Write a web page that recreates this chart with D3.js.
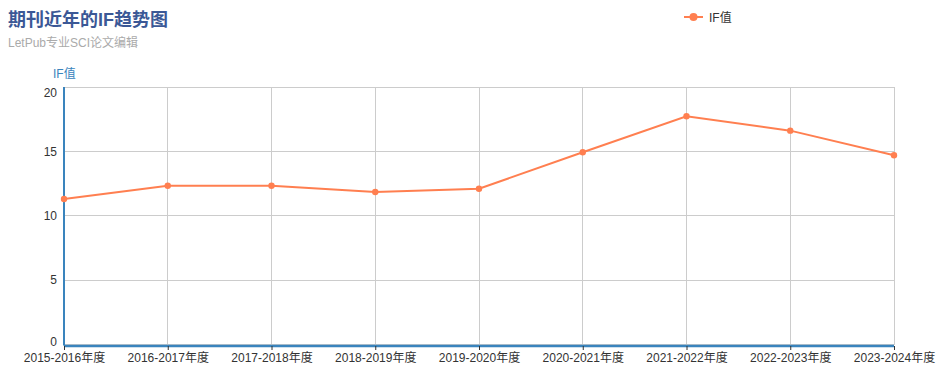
<!DOCTYPE html>
<html><head><meta charset="utf-8">
<script src="https://cdn.jsdelivr.net/npm/d3@7/dist/d3.min.js"></script>
<style>body{margin:0;background:#fff;font-family:"Liberation Sans","Noto Sans CJK SC",sans-serif;}</style>
</head><body><svg id="c" width="942" height="377"></svg>
<script>
const categories = ["2015-2016年度","2016-2017年度","2017-2018年度","2018-2019年度","2019-2020年度","2020-2021年度","2021-2022年度","2022-2023年度","2023-2024年度"];
const ifValues = [11.3, 12.33, 12.33, 11.85, 12.1, 14.93, 17.73, 16.61, 14.7];
const yTicks = [0, 5, 10, 15, 20];
const title = "期刊近年的IF趋势图";
const subtitle = "LetPub专业SCI论文编辑";
const seriesName = "IF值";

const svg = d3.select("#c");
const font = '"Liberation Sans", "Noto Sans CJK SC", sans-serif';
const L = 64, R = 894, T = 87, B = 344.5;
const x = d3.scalePoint().domain(categories).range([L, R]);
const y = d3.scaleLinear().domain([0, 20]).range([B, T]);
const color = "#ff7f50";
const axisColor = "#3a84bd";

// grid
const g = svg.append("g");
g.selectAll(".hg").data(yTicks).join("line")
  .attr("x1", L).attr("x2", R).attr("y1", d => y(d)).attr("y2", d => y(d))
  .attr("stroke", "#ccc").attr("stroke-width", 1).attr("shape-rendering","crispEdges");
g.selectAll(".vg").data(categories).join("line")
  .attr("x1", d => x(d)).attr("x2", d => x(d)).attr("y1", T).attr("y2", B)
  .attr("stroke", "#ccc").attr("stroke-width", 1).attr("shape-rendering","crispEdges");

// y axis
const yAxis = svg.append("g").attr("transform", `translate(${L},0)`)
  .call(d3.axisLeft(y).tickValues(yTicks).tickSize(0).tickPadding(7));
yAxis.select(".domain").attr("stroke", axisColor).attr("stroke-width", 2).attr("d", `M0,${T}V${B+1}`);
yAxis.selectAll("text").attr("fill", "#333").style("font-size", "12px").style("font-family", font)
  .attr("dy", d => d === 20 ? "0.75em" : d === 0 ? "0.05em" : "0.32em");

// x axis
const xAxis = svg.append("g").attr("transform", `translate(0,${B+1.5})`)
  .call(d3.axisBottom(x).tickSize(4).tickPadding(3));
xAxis.select(".domain").attr("stroke", axisColor).attr("stroke-width", 2.5).attr("d", `M${L},0H${R}`);
xAxis.selectAll(".tick line").attr("stroke", "#333");
xAxis.selectAll("text").attr("fill", "#333").style("font-size", "12px").style("font-family", font);

// y axis name
svg.append("text").attr("x", 53).attr("y", 78).text(seriesName)
  .attr("fill", axisColor).style("font-size", "12px").style("font-family", font);

// line
const line = d3.line().x((d, i) => x(categories[i])).y(d => y(d));
svg.append("path").datum(ifValues).attr("d", line)
  .attr("fill", "none").attr("stroke", color).attr("stroke-width", 2);
svg.selectAll(".pt").data(ifValues).join("circle")
  .attr("cx", (d, i) => x(categories[i])).attr("cy", d => y(d)).attr("r", 3.2).attr("fill", color);

// title
svg.append("text").attr("x", 8).attr("y", 26).text(title)
  .attr("fill", "#3b5896").style("font-size", "18px").style("font-weight", "bold").style("font-family", font);
svg.append("text").attr("x", 8).attr("y", 47).text(subtitle)
  .attr("fill", "#aaa").style("font-size", "12px").style("font-family", font);

// legend
svg.append("line").attr("x1", 684).attr("x2", 703).attr("y1", 17).attr("y2", 17)
  .attr("stroke", color).attr("stroke-width", 2);
svg.append("circle").attr("cx", 693.5).attr("cy", 17).attr("r", 4).attr("fill", color);
svg.append("text").attr("x", 709).attr("y", 21.5).text(seriesName)
  .attr("fill", "#333").style("font-size", "12px").style("font-family", font);
</script></body></html>
